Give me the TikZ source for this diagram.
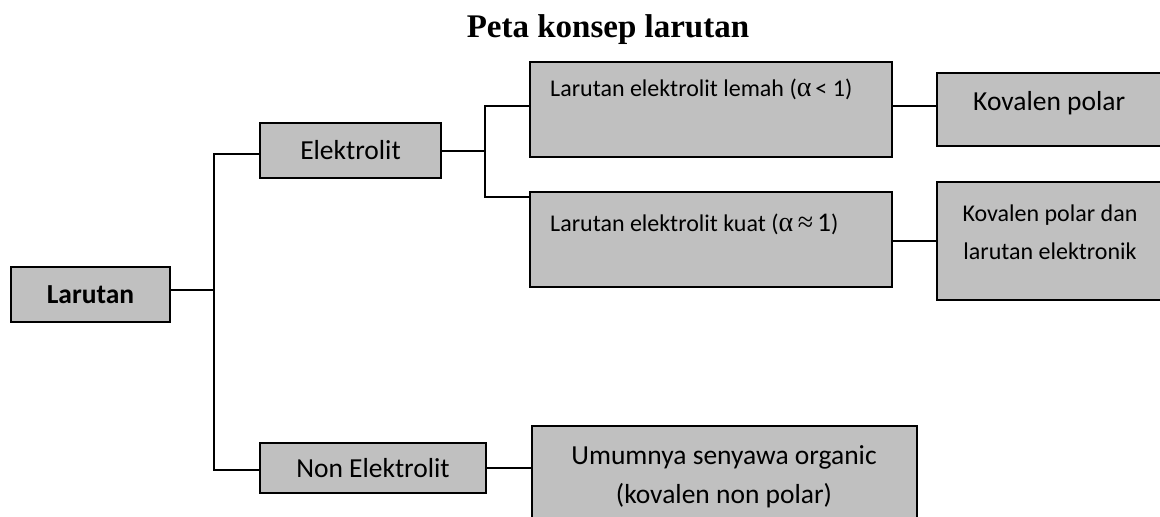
\documentclass[tikz,border=0pt]{standalone}
\usepackage{fontspec}
\setmainfont{Carlito}
\newfontfamily\titlefont{Liberation Serif}
\newfontfamily\greekfont{Liberation Serif}
\definecolor{boxgray}{RGB}{192,192,192}

\begin{document}
\begin{tikzpicture}[x=1pt,y=-1pt,
    box/.style={draw,rectangle,fill=boxgray,line width=1.5pt,inner sep=0pt},
    conn/.style={line width=1.5pt},
    bigtxt/.style={font=\fontsize{27.5}{39}\selectfont},
    smalltxt/.style={font=\fontsize{24}{38}\selectfont,inner sep=0pt}]
  %%% page frame
  \useasboundingbox (0,0) rectangle (1160,517);
  \clip (0,0) rectangle (1160,517);
  % title
  \node[font=\titlefont\bfseries\fontsize{33}{40}\selectfont,anchor=base] (title) at (608,37) {Peta konsep larutan};
  % Larutan
  \node[box,minimum width=159,minimum height=55,bigtxt] (larutan) at (90.5,294.5) {\bfseries Larutan};
  \coordinate (split) at (214,290);
  % Elektrolit
  \node[box,minimum width=181,minimum height=55,bigtxt] (elektrolit) at (350.5,150.5) {Elektrolit};
  \coordinate (tA) at (214,154);
  \coordinate (bTop) at (485,106);
  \coordinate (bMid) at (485,151);
  \coordinate (bBot) at (485,197);
  % lemah / kuat
  \node[box,minimum width=362,minimum height=95] (lemah) at (711,109.5) {};
  \node[smalltxt,anchor=base west] (lemahtxt) at (550,96.7) {Larutan elektrolit lemah ({\greekfont\fontsize{28}{38}\selectfont α}\,< 1)};
  \node[box,minimum width=362,minimum height=95] (kuat) at (711,239.5) {};
  \node[smalltxt,anchor=base west] (kuattxt) at (550,231.7) {Larutan elektrolit kuat ({\greekfont\fontsize{28}{38}\selectfont α\,≈}\,{\fontsize{27}{38}\selectfont 1})};
  % Kovalen
  \node[box,minimum width=243,minimum height=73] (kovpolar) at (1058.5,109.5) {};
  \node[bigtxt,inner sep=0pt,anchor=base west] (kovpolartxt) at (973,110) {Kovalen polar};
  \node[box,minimum width=243,minimum height=118] (kovdan) at (1058.5,241) {};
  \node[smalltxt,align=center] (kovdantxt) at (1050,232.5) {Kovalen polar dan\\larutan elektronik};
  % Non Elektrolit
  \node[box,minimum width=226,minimum height=50,bigtxt] (nonel) at (373,468) {Non Elektrolit};
  \coordinate (tB) at (214,470);
  \node[box,minimum width=385,minimum height=114] (umum) at (724.5,483) {};
  \node[bigtxt,inner sep=0pt,align=center] (umumtxt) at (724,477) {Umumnya senyawa organic\\(kovalen non polar)};
  %% connectors
  \draw[conn] (larutan.east |- split) -- (split);
  \draw[conn] (elektrolit.west |- tA) -- (tA) -- (tB) -- (nonel.west |- tB);
  \draw[conn] (elektrolit.east |- bMid) -- (bMid);
  \draw[conn] (lemah.west |- bTop) -- (bTop) -- (bBot) -- (kuat.west |- bBot);
  \draw[conn] (lemah.east |- bTop) -- (kovpolar.west |- bTop);
  \draw[conn] (kuat.east |- kovdan.west) -- (kovdan.west);
  \draw[conn] (nonel.east) -- (umum.west |- nonel.east);
\end{tikzpicture}
\end{document}
